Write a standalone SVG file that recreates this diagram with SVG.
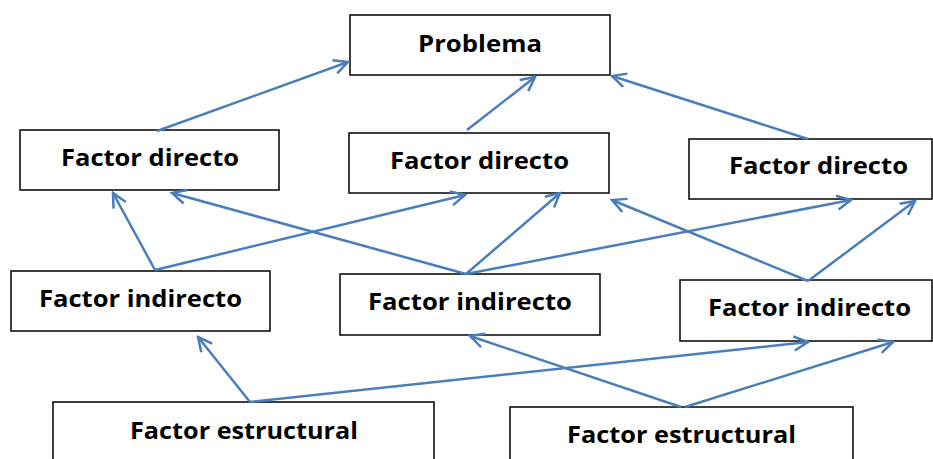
<svg xmlns="http://www.w3.org/2000/svg" width="933" height="459" viewBox="0 0 933 459">
<style>
.box{fill:#fff;stroke:#000;stroke-width:1.5}
.lbl{font-family:"Open Sans","Liberation Sans",sans-serif;font-weight:700;font-size:23px;fill:#000}
.c line{stroke:#4a7ebb;stroke-width:2.5;fill:none;marker-end:url(#ah)}
</style>
<defs>
<marker id="ah" viewBox="-17 -9 19 18" markerWidth="19" markerHeight="18" refX="0" refY="0" orient="auto" markerUnits="userSpaceOnUse">
<path d="M-14,-7 L0,0 L-14,7" fill="none" stroke="#4a7ebb" stroke-width="2.5"/>
</marker>
</defs>
<rect width="933" height="459" fill="#fff"/>
<g id="problema"><rect class="box" x="350" y="15" width="260" height="60"/><text class="lbl" x="418" y="52" font-size="24" textLength="124" lengthAdjust="spacingAndGlyphs">Problema</text></g>
<g id="fd1"><rect class="box" x="20" y="130" width="259" height="60"/><text class="lbl" x="61" y="166" textLength="178" lengthAdjust="spacingAndGlyphs">Factor directo</text></g>
<g id="fd2"><rect class="box" x="349" y="133" width="260" height="60"/><text class="lbl" x="390" y="169" textLength="179" lengthAdjust="spacingAndGlyphs">Factor directo</text></g>
<g id="fd3"><rect class="box" x="689" y="139" width="243" height="60"/><text class="lbl" x="729" y="174" textLength="179" lengthAdjust="spacingAndGlyphs">Factor directo</text></g>
<g id="fi1"><rect class="box" x="11" y="271" width="259" height="60"/><text class="lbl" x="39" y="307" textLength="203" lengthAdjust="spacingAndGlyphs">Factor indirecto</text></g>
<g id="fi2"><rect class="box" x="340" y="274" width="260" height="61"/><text class="lbl" x="368" y="310" textLength="204" lengthAdjust="spacingAndGlyphs">Factor indirecto</text></g>
<g id="fi3"><rect class="box" x="680" y="280" width="252" height="61"/><text class="lbl" x="708" y="316" textLength="203" lengthAdjust="spacingAndGlyphs">Factor indirecto</text></g>
<g id="fe1"><rect class="box" x="53" y="402" width="381" height="70"/><text class="lbl" x="130" y="439" textLength="228" lengthAdjust="spacingAndGlyphs">Factor estructural</text></g>
<g id="fe2"><rect class="box" x="510" y="407" width="343" height="70"/><text class="lbl" x="567" y="443" textLength="229" lengthAdjust="spacingAndGlyphs">Factor estructural</text></g>
<g id="connectors" class="c">
<line x1="157" y1="131" x2="348" y2="62"/>
<line x1="467" y1="130" x2="535" y2="77"/>
<line x1="808" y1="139" x2="612" y2="76"/>
<line x1="155" y1="270" x2="113" y2="193"/>
<line x1="155" y1="270" x2="465" y2="195"/>
<line x1="466" y1="274" x2="172" y2="193"/>
<line x1="466" y1="274" x2="560" y2="193"/>
<line x1="466" y1="274" x2="851" y2="200"/>
<line x1="808" y1="281" x2="612" y2="200"/>
<line x1="808" y1="281" x2="915" y2="201"/>
<line x1="250" y1="402" x2="198" y2="337"/>
<line x1="250" y1="402" x2="808" y2="342"/>
<line x1="681" y1="407" x2="470" y2="336"/>
<line x1="685" y1="407" x2="893" y2="342"/>
</g>
</svg>
